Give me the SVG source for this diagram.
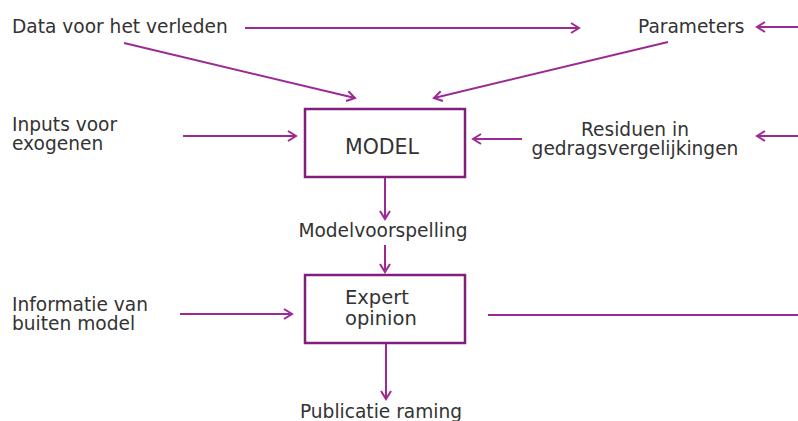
<svg xmlns="http://www.w3.org/2000/svg" width="798" height="421" viewBox="0 0 798 421">
<style>
text{font-family:"DejaVu Sans",Verdana,sans-serif;fill:#333;font-size:18.6px}
.c{stroke:#9c2a94;stroke-width:2;fill:none}
.a{marker-end:url(#ah)}
.box{fill:#fff;stroke:#80207a;stroke-width:2.5}
.big{font-size:20.5px}
.mid{font-size:19.5px}
</style>
<defs>
<marker id="ah" markerUnits="userSpaceOnUse" markerWidth="14" markerHeight="14" refX="9" refY="6" orient="auto">
<path d="M1,1 L9,6 L1,11" fill="none" stroke="#9c2a94" stroke-width="2"/>
</marker>
</defs>
<g id="connectors">
<line class="c a" x1="245" y1="28" x2="579" y2="28"/>
<line class="c a" x1="798" y1="27" x2="757" y2="27"/>
<line class="c a" x1="124" y1="43" x2="355" y2="98"/>
<line class="c a" x1="668" y1="42" x2="434" y2="98"/>
<line class="c a" x1="183" y1="136" x2="296" y2="136"/>
<line class="c a" x1="522" y1="139" x2="473" y2="139"/>
<line class="c a" x1="798" y1="136" x2="757" y2="136"/>
<line class="c a" x1="385" y1="178" x2="385" y2="219"/>
<line class="c a" x1="385" y1="245" x2="385" y2="272"/>
<line class="c a" x1="180" y1="314" x2="292" y2="314"/>
<line class="c" x1="488" y1="315" x2="798" y2="315"/>
<line class="c a" x1="386" y1="344" x2="386" y2="399"/>
</g>
<g id="data"><text x="12" y="33">Data voor het verleden</text></g>
<g id="parameters"><text x="638" y="33">Parameters</text></g>
<g id="inputs"><text x="12" y="131">Inputs voor</text><text x="12" y="150">exogenen</text></g>
<g id="model"><rect class="box" x="305" y="109" width="160" height="68"/><text class="big" x="345" y="154">MODEL</text></g>
<g id="residuen"><text x="635" y="136" text-anchor="middle">Residuen in</text><text x="635" y="155" text-anchor="middle">gedragsvergelijkingen</text></g>
<g id="modelvoorspelling"><text x="383" y="237" text-anchor="middle">Modelvoorspelling</text></g>
<g id="informatie"><text x="12" y="311">Informatie van</text><text x="12" y="330">buiten model</text></g>
<g id="expert"><rect class="box" x="305" y="275" width="160" height="68"/><text class="mid" x="345" y="304">Expert</text><text class="mid" x="345" y="325">opinion</text></g>
<g id="publicatie"><text x="381" y="418" text-anchor="middle">Publicatie raming</text></g>
</svg>
